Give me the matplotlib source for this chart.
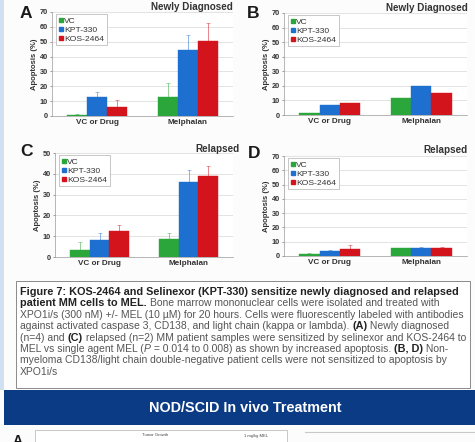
import numpy as np
import matplotlib
matplotlib.use('Agg')
from matplotlib import pyplot as plt
from matplotlib.lines import Line2D
from matplotlib.patches import Rectangle

plt.rcParams['font.family'] = ['Liberation Sans', 'DejaVu Sans']

W, H = 475, 442

categories = ['VC or Drug', 'Melphalan']
series = ['VC', 'KPT-330', 'KOS-2464']
colors = ['#2aa63a', '#1d6fd0', '#d3141c']

# apoptosis (%) per series, [VC or Drug, Melphalan]
a_vals = [[0.8, 12.8], [13.0, 44.5], [6.3, 50.7]]
a_err = [[0.5, 9.5], [3.4, 10.0], [4.5, 12.0]]
b_vals = [[1.3, 11.4], [6.6, 19.9], [8.0, 15.3]]
c_vals = [[3.4, 8.7], [8.2, 36.0], [12.5, 38.8]]
c_err = [[4.0, 2.9], [3.3, 6.0], [3.0, 4.8]]
d_vals = [[1.5, 5.5], [3.5, 5.8], [4.8, 5.8]]
d_err = [[0.5, 0.3], [0.5, 0.3], [3.2, 0.4]]

fig = plt.figure(figsize=(W / 100, H / 100), dpi=100)
fig.patch.set_facecolor('#fcfcfc')


def fx(x):
    return x / W


def fy(y):
    return 1 - y / H


def px_axes(x0, y0, x1, y1):
    return fig.add_axes([x0 / W, 1 - y1 / H, (x1 - x0) / W, (y1 - y0) / H])


def panel(box, vals, errs, ymax, title, title_xy, letter, letter_xy):
    ax = px_axes(*box)
    x = np.arange(len(categories))
    bw = 0.222
    for i, (name, col) in enumerate(zip(series, colors)):
        pos = x + (i - 1) * bw
        ax.bar(pos, vals[i], bw, color=col, edgecolor=col, lw=0.3, zorder=3)
        if errs is not None:
            ax.errorbar(pos, vals[i], yerr=[[0, 0], errs[i]], fmt='none',
                        ecolor=col, elinewidth=0.6, capsize=1.2, capthick=0.5,
                        alpha=0.6, zorder=4)
    ax.set_xlim(-0.5, 1.5)
    ax.set_ylim(0, ymax)
    ax.set_yticks(np.arange(0, ymax + 1, 10))
    ax.set_xticks(x)
    ax.set_xticklabels(categories, fontsize=5.9, color='#333333', fontweight='bold')
    ax.tick_params(axis='y', labelsize=5.3, length=1.5, width=0.4, pad=1.5,
                   colors='#555555', labelcolor='#333333')
    ax.tick_params(axis='x', length=0, pad=2.5)
    for t in ax.get_yticklabels():
        t.set_fontweight('bold')
    ax.yaxis.grid(True, color='#d8d8d8', lw=0.5, zorder=0)
    ax.set_axisbelow(True)
    for s in ['top', 'right']:
        ax.spines[s].set_visible(False)
    ax.spines['left'].set_color('#9a9a9a')
    ax.spines['bottom'].set_color('#9a9a9a')
    ax.spines['left'].set_linewidth(0.5)
    ax.spines['bottom'].set_linewidth(0.5)
    ax.set_facecolor('white')
    ax.set_ylabel('Apoptosis (%)', fontsize=5.5, color='#333333', labelpad=1.2,
                  fontweight='bold')
    handles = [Line2D([], [], marker='s', ls='none', color=c, markersize=3)
               for c in colors]
    leg = ax.legend(handles, series, loc='upper left', fontsize=6.1,
                    handlelength=0.5, handletextpad=0.15, borderpad=0.3,
                    labelspacing=0.12, fancybox=False, framealpha=1,
                    bbox_to_anchor=(0.0, 1.02))
    leg.get_frame().set_edgecolor('#b0b0b0')
    leg.get_frame().set_linewidth(0.5)
    for t in leg.get_texts():
        t.set_color('#333333')
    fig.text(fx(title_xy[0]), fy(title_xy[1]), title, fontsize=7.1, fontweight='bold',
             color='#333333', ha='right', va='center')
    fig.text(fx(letter_xy[0]), fy(letter_xy[1]), letter, fontsize=12.5,
             fontweight='bold', color='#1a1a1a', ha='left', va='center')
    return ax


panel((52, 12, 233, 116), a_vals, a_err, 70, 'Newly Diagnosed', (233, 7), 'A', (20, 14))
panel((284, 13, 467, 115), b_vals, None, 70, 'Newly Diagnosed', (468, 8), 'B', (247, 14))
panel((55, 153, 233, 257), c_vals, c_err, 50, 'Relapsed', (240, 149), 'C', (20, 151))
panel((284, 156, 467, 256), d_vals, d_err, 70, 'Relapsed', (467, 150), 'D', (248, 153))

# full-figure layer for the caption and banner
lay = fig.add_axes([0, 0, 1, 1], zorder=-1)
lay.set_xlim(0, W)
lay.set_ylim(H, 0)
lay.axis('off')

# light blue strip on the left edge
lay.add_patch(Rectangle((0, 0), 4, 390, facecolor='#cfe0f0', edgecolor='none'))

# caption box
lay.add_patch(Rectangle((16, 281), 454, 107, facecolor='white',
                        edgecolor='#8a8a8a', lw=0.7))

B = dict(fontweight='bold', color='#222222', fontsize=7.8)
N = dict(color='#555555', fontsize=7.5)
I = dict(color='#555555', style='italic', fontsize=7.5)
caption = [
    [('Figure 7: KOS-2464 and Selinexor (KPT-330) sensitize newly diagnosed and relapsed', B)],
    [('patient MM cells to MEL. ', B),
     ('Bone marrow mononuclear cells were isolated and treated with', N)],
    [('XPO1i/s (300 nM) +/- MEL (10 \u00b5M) for 20 hours. Cells were fluorescently labeled with antibodies', N)],
    [('against activated caspase 3, CD138, and light chain (kappa or lambda). ', N),
     ('(A)', B), (' Newly diagnosed', N)],
    [('(n=4) and ', N), ('(C)', B),
     (' relapsed (n=2) MM patient samples were sensitized by selinexor and KOS-2464 to', N)],
    [('MEL vs single agent MEL (', N), ('P', I),
     (' = 0.014 to 0.008) as shown by increased apoptosis. ', N), ('(B, D)', B), (' Non-', N)],
    [('myeloma CD138/light chain double-negative patient cells were not sensitized to apoptosis by', N)],
    [('XPO1i/s', N)],
]
for k, line in enumerate(caption):
    y = 292 + k * 11.4
    prev = None
    for txt, style in line:
        if prev is None:
            prev = lay.text(20, y, txt, va='center', ha='left', **style)
        else:
            # continue the line right after the previous run
            prev = lay.annotate(txt, xy=(1, 0), xycoords=prev, va='bottom',
                                ha='left', **style)

# header bar
lay.add_patch(Rectangle((4, 390), W - 4, 35, facecolor='#0b3b85', edgecolor='none'))
lay.text(245, 408, 'NOD/SCID In vivo Treatment', fontsize=10.4,
         fontweight='bold', color='white', ha='center', va='center')

# top of next figure panel
lay.text(13, 441, 'A', fontsize=10, fontweight='bold', color='#1a1a1a',
         ha='left', va='center')
lay.add_patch(Rectangle((35, 430), 252, 20, facecolor='white',
                        edgecolor='#c0c0c0', lw=0.6))
lay.text(155, 435, 'Tumor Growth', fontsize=3, color='#444444',
         ha='center', va='center')
lay.text(256, 436, '1 mg/kg MEL', fontsize=3, color='#444444',
         ha='center', va='center')
lay.plot([305, W], [432, 432], color='#c8c8c8', lw=0.8)

fig.savefig('out.png', dpi=100, facecolor=fig.get_facecolor())
